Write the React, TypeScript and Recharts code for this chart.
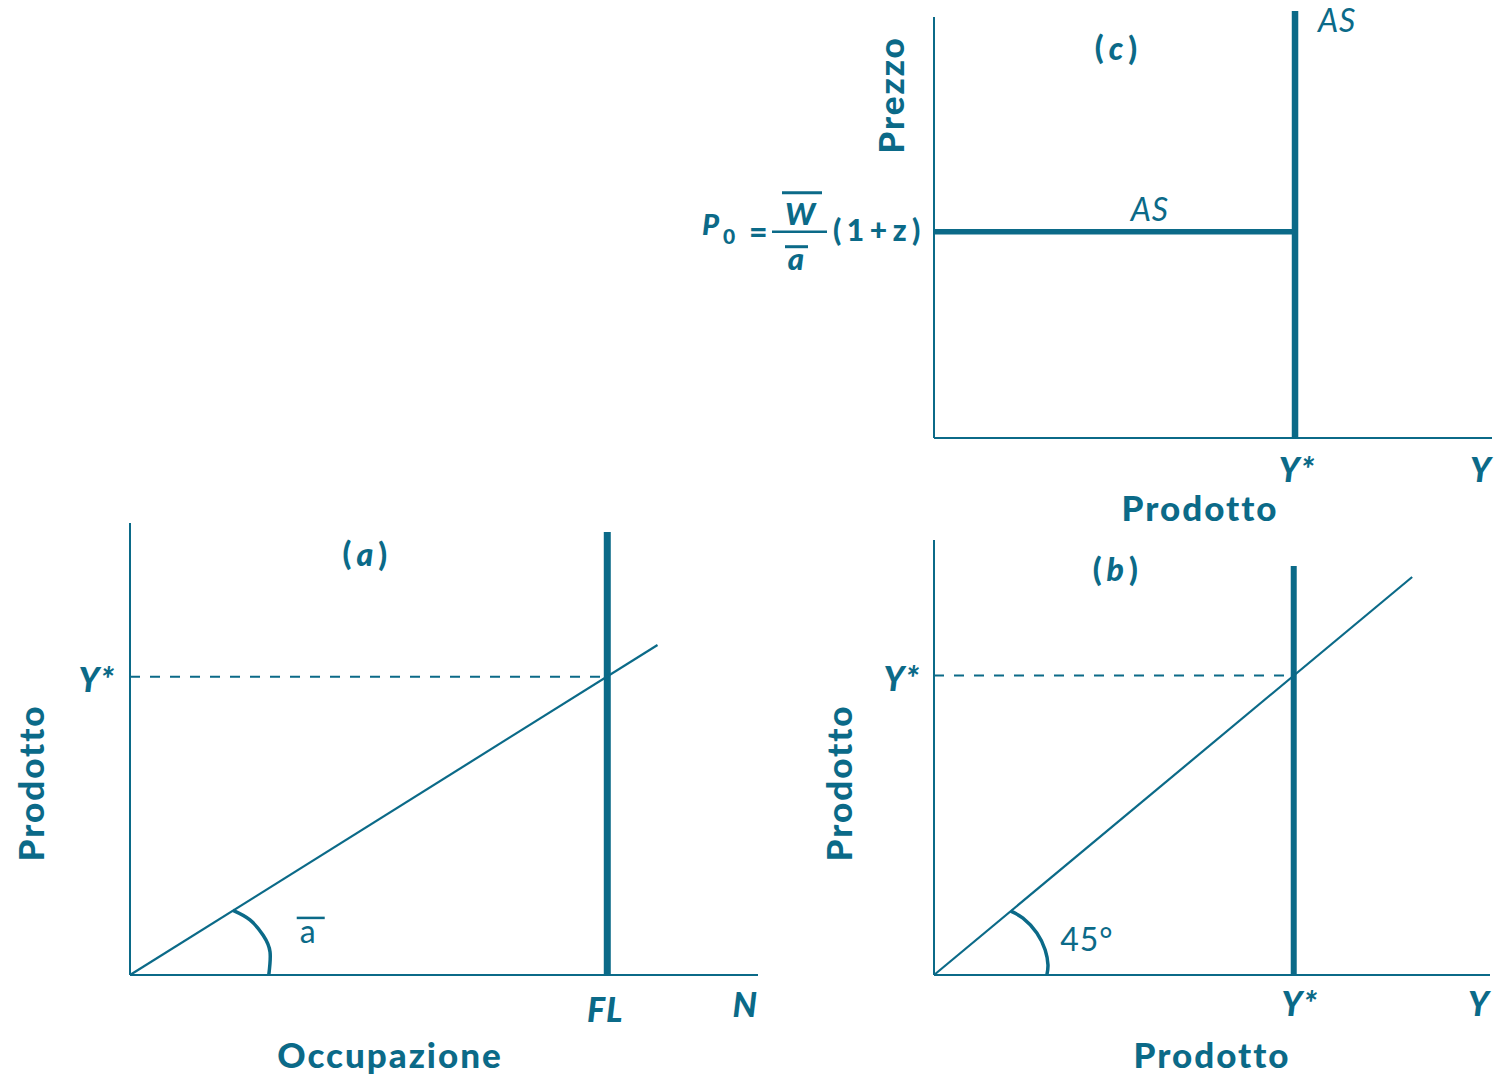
import { ComposedChart, Line, XAxis, YAxis, ReferenceLine, ReferenceDot } from 'recharts';

const BLU = '#0b6a88';
const FONT = 'Lato, "Open Sans", "DejaVu Sans", sans-serif';

// (a) funzione di produzione Y = a·N
const N_MAX = 100;
const Y_MAX_A = 100;
const FL = 76;
const Y_STAR_A = 66;
const FL_TOP = 98;
const produzioneN = [0, 84];
const produzioneY = [0, 73];
const arcoAN = [16.4, 19.1, 21.2, 22.3, 22.1];
const arcoAY = [14.3, 12.2, 8.8, 5.1, 0];
const ticksA = ['FL', 'N'];

// (b) bisettrice a 45°
const X_MAX = 100;
const Y_MAX_B = 94;
const Y_STAR = 64.7;
const Y_STAR_TOP = 88.4;
const bisettriceX = [0, 86];
const bisettriceY = [0, 86];
const arcoBX = [13.8, 16.0, 18.5, 20.0, 20.5, 20.3];
const arcoBY = [13.8, 12.3, 9.1, 5.4, 2.2, 0];
const ticksProdotto = ['Y*', 'Y'];

// (c) offerta aggregata
const P_MAX = 100;
const P0 = 49;
const AS_TOP = 101.4;
const asBreveX = [0, Y_STAR];
const asBreveY = [P0, P0];

const punti = (xs: number[], ys: number[]) => xs.map((x, i) => ({ x, y: ys[i] }));

const asse = { stroke: BLU, strokeWidth: 2 };

type TickStyle = { dx: number; dy: number; anchor: 'start' | 'middle' | 'end' };

const makeTick = (labels: string[], styles: TickStyle[]) => (props: any) => {
  const { x, y, index } = props;
  const s = styles[index];
  if (!s) return <g />;
  return (
    <text x={x + s.dx} y={y + s.dy} textAnchor={s.anchor} fill={BLU} fontFamily={FONT}
      fontWeight={900} fontStyle="italic" fontSize={34} letterSpacing={1}>
      {labels[index]}
    </text>
  );
};

const vbOf = (p: any) => p.viewBox ?? p;
const centro = (p: any) => {
  const vb = vbOf(p);
  return { x: vb.x + (vb.width || 0) / 2, y: vb.y + (vb.height || 0) / 2 };
};

const titoloAsse = (testo: string, dx: number, dy: number, ruotato = false) => (p: any) => {
  const vb = vbOf(p);
  const x = vb.x + dx;
  const y = vb.y + dy;
  return (
    <text x={x} y={y} textAnchor="middle" fill={BLU} fontFamily={FONT} fontWeight={900} fontSize={35}
      letterSpacing={2}
      dominantBaseline={ruotato ? 'central' : undefined}
      transform={ruotato ? `rotate(-90 ${x} ${y})` : undefined}>
      {testo}
    </text>
  );
};

const titolo = (lettera: string) => (p: any) => {
  const { x, y } = centro(p);
  return (
    <text x={x} y={y} textAnchor="middle" dominantBaseline="central" fill={BLU} fontFamily={FONT}
      fontWeight={900} fontSize={32}>
      (<tspan fontStyle="italic" dx={5}>{lettera}</tspan><tspan dx={5}>)</tspan>
    </text>
  );
};

const testoLeggero = (testo: string, anchor: 'start' | 'middle', size: number, italic = false) => (p: any) => {
  const { x, y } = centro(p);
  return (
    <text x={x} y={y} textAnchor={anchor} fill={BLU} fontFamily={FONT} fontWeight={400}
      fontStyle={italic ? 'italic' : 'normal'} fontSize={size} letterSpacing={1}>
      {testo}
    </text>
  );
};

const aSegnato = (p: any) => {
  const { x, y } = centro(p);
  return (
    <g>
      <text x={x} y={y} textAnchor="middle" fill={BLU} fontFamily={FONT} fontWeight={400} fontSize={32}>a</text>
      <line x1={x - 11} x2={x + 17} y1={y - 25} y2={y - 25} stroke={BLU} strokeWidth={2.5} />
    </g>
  );
};

const asVerticale = (p: any) => {
  const vb = vbOf(p);
  return (
    <text x={vb.x + 23} y={vb.y + 21} textAnchor="start" fill={BLU} fontFamily={FONT} fontWeight={400}
      fontStyle="italic" fontSize={32} letterSpacing={1}>
      AS
    </text>
  );
};

const TickPrezzo = (props: any) => {
  const { x, y } = props;
  return (
    <g fill={BLU} fontFamily={FONT} fontWeight={900}>
      <text x={x - 232} y={y + 3} fontSize={29} fontStyle="italic">P</text>
      <text x={x - 211} y={y + 12} fontSize={21}>0</text>
      <text x={x - 185} y={y + 11} fontSize={32}>=</text>
      <line x1={x - 162} x2={x - 107} y1={y} y2={y} stroke={BLU} strokeWidth={2.5} />
      <text x={x - 134} y={y - 7} textAnchor="middle" fontSize={31} fontStyle="italic">W</text>
      <line x1={x - 152} x2={x - 112} y1={y - 39} y2={y - 39} stroke={BLU} strokeWidth={3} />
      <text x={x - 138} y={y + 38} textAnchor="middle" fontSize={31} fontStyle="italic">a</text>
      <line x1={x - 149} x2={x - 126} y1={y + 15} y2={y + 15} stroke={BLU} strokeWidth={3} />
      <text x={x - 101} y={y + 9} textAnchor="start" fontSize={30} letterSpacing={5.5}>(1+z)</text>
    </g>
  );
};

const lineaProps = { dataKey: 'y', stroke: BLU, dot: false, activeDot: false, isAnimationActive: false } as const;

const PannelloA = () => (
  <ComposedChart width={800} height={596} margin={{ top: 43, right: 42, bottom: 0, left: 0 }}>
    <XAxis type="number" dataKey="x" domain={[0, N_MAX]} ticks={[FL, N_MAX]} interval={0} height={101}
      axisLine={asse} tickLine={false} tickSize={0} tickMargin={0}
      tick={makeTick(ticksA, [{ dx: -2, dy: 47, anchor: 'middle' }, { dx: 0, dy: 42, anchor: 'end' }])}
      label={titoloAsse('Occupazione', 260, 93)} />
    <YAxis type="number" dataKey="y" domain={[0, Y_MAX_A]} ticks={[Y_STAR_A]} interval={0} width={130}
      axisLine={asse} tickLine={false} tickSize={0} tickMargin={0}
      tick={makeTick(['Y*'], [{ dx: -15, dy: 15, anchor: 'end' }])}
      label={titoloAsse('Prodotto', 30, 260, true)} />
    <ReferenceLine segment={[{ x: 0, y: Y_STAR_A }, { x: FL, y: Y_STAR_A }]} stroke={BLU} strokeWidth={2}
      strokeDasharray="10 10" />
    <ReferenceLine segment={[{ x: FL, y: 0 }, { x: FL, y: FL_TOP }]} stroke={BLU} strokeWidth={7} />
    <Line {...lineaProps} data={punti(produzioneN, produzioneY)} type="linear" strokeWidth={2.2} />
    <Line {...lineaProps} data={punti(arcoAN, arcoAY)} type="natural" strokeWidth={3.5} />
    <ReferenceDot x={37.4} y={93.4} r={0} fill="none" stroke="none" label={titolo('a')} />
    <ReferenceDot x={28.3} y={7.1} r={0} fill="none" stroke="none" label={aSegnato} />
  </ComposedChart>
);

const PannelloB = () => (
  <ComposedChart width={715} height={576} margin={{ top: 40, right: 5, bottom: 0, left: 0 }}>
    <XAxis type="number" dataKey="x" domain={[0, X_MAX]} ticks={[Y_STAR, X_MAX]} interval={0} height={101}
      axisLine={asse} tickLine={false} tickSize={0} tickMargin={0}
      tick={makeTick(ticksProdotto, [{ dx: 6, dy: 41, anchor: 'middle' }, { dx: 0, dy: 41, anchor: 'end' }])}
      label={titoloAsse('Prodotto', 278, 93)} />
    <YAxis type="number" dataKey="y" domain={[0, Y_MAX_B]} ticks={[Y_STAR]} interval={0} width={154}
      axisLine={asse} tickLine={false} tickSize={0} tickMargin={0}
      tick={makeTick(['Y*'], [{ dx: -14, dy: 15, anchor: 'end' }])}
      label={titoloAsse('Prodotto', 58, 243, true)} />
    <ReferenceLine segment={[{ x: 0, y: Y_STAR }, { x: Y_STAR, y: Y_STAR }]} stroke={BLU} strokeWidth={2}
      strokeDasharray="10 10" />
    <ReferenceLine segment={[{ x: Y_STAR, y: 0 }, { x: Y_STAR, y: Y_STAR_TOP }]} stroke={BLU} strokeWidth={6} />
    <Line {...lineaProps} data={punti(bisettriceX, bisettriceY)} type="linear" strokeWidth={2.2} />
    <Line {...lineaProps} data={punti(arcoBX, arcoBY)} type="natural" strokeWidth={3.5} />
    <ReferenceDot x={32.6} y={87.9} r={0} fill="none" stroke="none" label={titolo('b')} />
    <ReferenceDot x={22.7} y={5.2} r={0} fill="none" stroke="none" label={testoLeggero('45°', 'start', 32)} />
  </ComposedChart>
);

const PannelloC = () => (
  <ComposedChart width={815} height={540} margin={{ top: 17, right: 3, bottom: 0, left: 0 }}>
    <XAxis type="number" dataKey="x" domain={[0, X_MAX]} ticks={[Y_STAR, X_MAX]} interval={0} height={102}
      axisLine={asse} tickLine={false} tickSize={0} tickMargin={0}
      tick={makeTick(ticksProdotto, [{ dx: 2, dy: 44, anchor: 'middle' }, { dx: 0, dy: 44, anchor: 'end' }])}
      label={titoloAsse('Prodotto', 266, 83)} />
    <YAxis type="number" dataKey="y" domain={[0, P_MAX]} ticks={[P0]} interval={0} width={254}
      axisLine={asse} tickLine={false} tickSize={0} tickMargin={0}
      tick={(p: any) => <TickPrezzo {...p} />}
      label={titoloAsse('Prezzo', 210, 78, true)} />
    <Line {...lineaProps} data={punti(asBreveX, asBreveY)} type="linear" strokeWidth={5.5} />
    <ReferenceLine segment={[{ x: Y_STAR, y: 0 }, { x: Y_STAR, y: AS_TOP }]} stroke={BLU} strokeWidth={6.5}
      ifOverflow="visible" label={asVerticale} />
    <ReferenceDot x={32.6} y={92.9} r={0} fill="none" stroke="none" label={titolo('c')} />
    <ReferenceDot x={38.7} y={51.5} r={0} fill="none" stroke="none" label={testoLeggero('AS', 'middle', 32, true)} />
  </ComposedChart>
);

export default function App() {
  return (
    <div style={{ position: 'absolute', left: 0, top: 0, width: 1495, height: 1076, background: '#fff' }}>
      <div style={{ position: 'absolute', left: 680, top: 0 }}>
        <PannelloC />
      </div>
      <div style={{ position: 'absolute', left: 780, top: 500 }}>
        <PannelloB />
      </div>
      <div style={{ position: 'absolute', left: 0, top: 480 }}>
        <PannelloA />
      </div>
    </div>
  );
}
